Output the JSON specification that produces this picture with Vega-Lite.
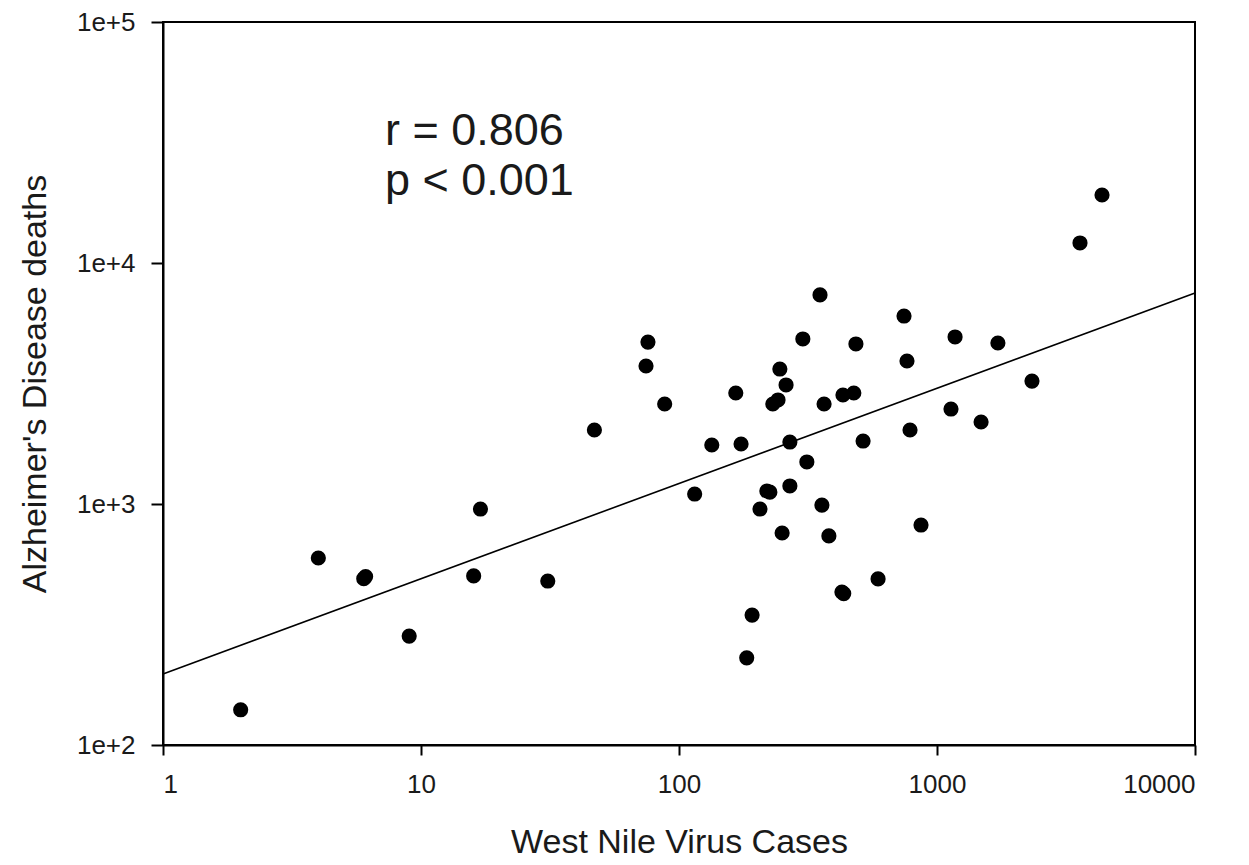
{
  "$schema": "https://vega.github.io/schema/vega-lite/v6.json",
  "width": 1032,
  "height": 723,
  "autosize": {"type": "none"},
  "padding": {"left": 163, "top": 22, "right": 54, "bottom": 120},
  "background": "white",
  "config": {
    "view": {"stroke": "#000", "strokeWidth": 2},
    "font": "Liberation Sans",
    "axis": {
      "grid": false,
      "domainColor": "#000",
      "domainWidth": 2,
      "tickColor": "#000",
      "tickWidth": 2,
      "labelFont": "Liberation Sans",
      "titleFont": "Liberation Sans",
      "labelColor": "#1a1a1a",
      "titleColor": "#1a1a1a",
      "labelFontSize": 26,
      "titleFontSize": 34,
      "titleFontWeight": "normal"
    }
  },
  "datasets": {
    "pts": [
      {"cases": 2, "deaths": 140},
      {"cases": 4, "deaths": 597},
      {"cases": 6, "deaths": 490},
      {"cases": 6.1, "deaths": 500},
      {"cases": 9, "deaths": 283},
      {"cases": 17, "deaths": 953},
      {"cases": 16, "deaths": 503},
      {"cases": 31, "deaths": 479},
      {"cases": 47, "deaths": 2028},
      {"cases": 74.5, "deaths": 3738},
      {"cases": 75.8, "deaths": 4699},
      {"cases": 88, "deaths": 2600},
      {"cases": 115, "deaths": 1100},
      {"cases": 134, "deaths": 1757},
      {"cases": 166, "deaths": 2888},
      {"cases": 174, "deaths": 1774},
      {"cases": 192, "deaths": 346},
      {"cases": 183, "deaths": 230},
      {"cases": 206, "deaths": 953},
      {"cases": 219, "deaths": 1132},
      {"cases": 225, "deaths": 1120},
      {"cases": 246, "deaths": 3631},
      {"cases": 260, "deaths": 3118},
      {"cases": 242, "deaths": 2702},
      {"cases": 231, "deaths": 2600},
      {"cases": 269, "deaths": 1808},
      {"cases": 269, "deaths": 1188},
      {"cases": 251, "deaths": 758},
      {"cases": 302, "deaths": 4839},
      {"cases": 313, "deaths": 1494},
      {"cases": 352, "deaths": 7369},
      {"cases": 358, "deaths": 990},
      {"cases": 365, "deaths": 2600},
      {"cases": 381, "deaths": 737},
      {"cases": 428, "deaths": 431},
      {"cases": 435, "deaths": 425},
      {"cases": 432, "deaths": 2833},
      {"cases": 476, "deaths": 2888},
      {"cases": 485, "deaths": 4613},
      {"cases": 517, "deaths": 1825},
      {"cases": 591, "deaths": 489},
      {"cases": 745, "deaths": 6026},
      {"cases": 765, "deaths": 3921},
      {"cases": 786, "deaths": 2028},
      {"cases": 867, "deaths": 818},
      {"cases": 1133, "deaths": 2478},
      {"cases": 1175, "deaths": 4932},
      {"cases": 1482, "deaths": 2189},
      {"cases": 1722, "deaths": 4656},
      {"cases": 2334, "deaths": 3237},
      {"cases": 3583, "deaths": 12107},
      {"cases": 4361, "deaths": 19150}
    ],
    "fit": [
      {"cases": 1, "deaths": 197},
      {"cases": 10000, "deaths": 7510}
    ],
    "notes": [
      {"cases": 7.25, "deaths": 30900, "label": "r = 0.806"},
      {"cases": 7.25, "deaths": 19140, "label": "p < 0.001"}
    ]
  },
  "encoding": {
    "x": {
      "field": "cases",
      "type": "quantitative",
      "scale": {"type": "log", "domain": [1, 10000], "nice": false},
      "axis": {
        "title": "West Nile Virus Cases",
        "values": [1, 10, 100, 1000, 10000],
        "format": "d",
        "tickSize": 10,
        "labelPadding": 16,
        "titlePadding": 28
      }
    },
    "y": {
      "field": "deaths",
      "type": "quantitative",
      "scale": {"type": "log", "domain": [100, 100000], "nice": false},
      "axis": {
        "title": "Alzheimer's Disease deaths",
        "values": [100, 1000, 10000, 100000],
        "labelExpr": "'1e+' + round(log(datum.value) / LN10)",
        "tickSize": 12,
        "labelPadding": 16,
        "titlePadding": 24
      }
    }
  },
  "layer": [
    {
      "data": {"name": "fit"},
      "mark": {"type": "line", "color": "#000", "strokeWidth": 1.6},
      "encoding": {}
    },
    {
      "data": {"name": "pts"},
      "mark": {"type": "circle", "color": "#000", "opacity": 1, "size": 230},
      "encoding": {}
    },
    {
      "data": {"name": "notes"},
      "mark": {"type": "text", "align": "left", "baseline": "alphabetic", "fontSize": 45, "color": "#1a1a1a", "font": "Liberation Sans"},
      "encoding": {"text": {"field": "label"}}
    }
  ]
}
